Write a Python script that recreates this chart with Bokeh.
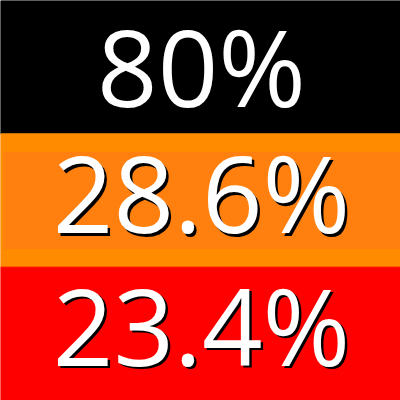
from bokeh.plotting import figure
from bokeh.models import FactorRange, Range1d, ColumnDataSource
from bokeh.transform import dodge
from bokeh.core.properties import value
from bokeh.embed import file_html
from bokeh.resources import INLINE

# Data
labels = ["80%", "28.6%", "23.4%"]
band_colors = ["#000000", "#FF8C00", "#FF0000"]
inner_colors = [None, "#FF800E", None]
shadow = [False, True, True]
baseline_shift = [0.008, 0.062, 0.070]  # fraction of band

W = H = 400
p = figure(width=W, height=H, output_backend="svg", toolbar_location=None,
           x_range=Range1d(0, 400), y_range=FactorRange(*labels[::-1], range_padding=0),
           min_border=0, outline_line_color=None)
p.axis.visible = False
p.grid.visible = False
p.background_fill_color = None
p.border_fill_color = None

src = ColumnDataSource(dict(y=labels, color=band_colors))
p.hbar(y="y", left=0, right=400, height=1.0, color="color", source=src)

inner = [(l, c) for l, c in zip(labels, inner_colors) if c]
p.hbar(y=[l for l, _ in inner], left=3.3, right=400, height=0.72,
       color=[c for _, c in inner])

font = value("Open Sans")
fs = "106px"
for lab, sh, off in zip(labels, shadow, baseline_shift):
    s = ColumnDataSource(dict(y=[lab], text=[lab]))
    if sh:
        p.text(x=203.5, y=dodge("y", off - 0.019, range=p.y_range), text="text",
               source=s, text_font=font, text_font_size=fs, text_color="#000000",
               text_align="center", text_baseline="middle")
    p.text(x=201, y=dodge("y", off, range=p.y_range), text="text",
           source=s, text_font=font, text_font_size=fs, text_color="#FFFFFF",
           text_align="center", text_baseline="middle")

open("out.html", "w").write(file_html(p, INLINE))
